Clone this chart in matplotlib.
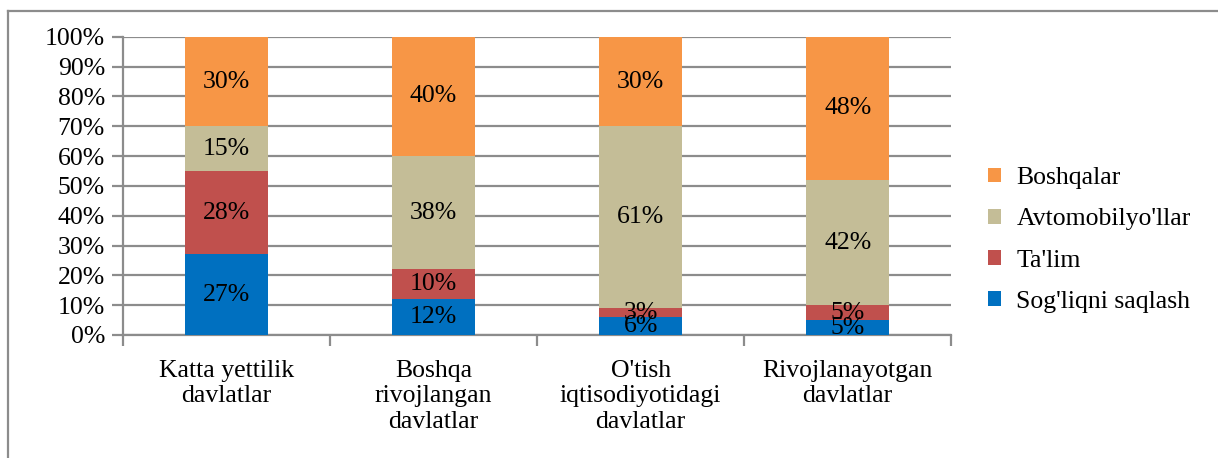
import matplotlib.pyplot as plt
from matplotlib.lines import Line2D
import numpy as np

plt.rcParams['font.family'] = ['Liberation Serif', 'DejaVu Serif']

categories = ["Katta yettilik\ndavlatlar", "Boshqa\nrivojlangan\ndavlatlar",
              "O'tish\niqtisodiyotidagi\ndavlatlar", "Rivojlanayotgan\ndavlatlar"]
series = ["Sog'liqni saqlash", "Ta'lim", "Avtomobilyo'llar", "Boshqalar"]
sogliq = [27, 12, 6, 5]
talim = [28, 10, 3, 5]
avto = [15, 38, 61, 42]
boshqa = [30, 40, 30, 48]
colors = ['#0070C0', '#C0504D', '#C4BD97', '#F79646']

fig = plt.figure(figsize=(12.18, 4.58), dpi=100)
ax = fig.add_axes([0.101, 0.2686, 0.680, 0.651])

x = np.arange(len(categories))
bottom = np.zeros(len(categories))
handles = []
for name, vals, col in zip(series, [sogliq, talim, avto, boshqa], colors):
    vals = np.array(vals, dtype=float)
    b = ax.bar(x, vals, 0.4, bottom=bottom, color=col, label=name, zorder=3)
    handles.append(b)
    for xi, v, b0 in zip(x, vals, bottom):
        ax.text(xi, b0 + v / 2, f"{int(v)}%", ha='center', va='center',
                fontsize=18.5, color='black', zorder=4)
    bottom += vals

ax.set_xlim(-0.5, 3.5)
ax.set_ylim(0, 100)
ax.set_yticks(np.arange(0, 101, 10))
ax.set_yticklabels([f"{v}%" for v in range(0, 101, 10)], fontsize=18.5)
ax.yaxis.grid(True, color='#8c8c8c', linewidth=1.6, zorder=0)
ax.set_xticks(x)
ax.set_xticklabels(categories, fontsize=18.5, linespacing=1.2)
ax.set_xticks(np.arange(-0.5, 4, 1), minor=True)
ax.tick_params(axis='x', which='major', length=0, pad=18)
ax.tick_params(axis='x', which='minor', length=8, width=1.6, color='#8c8c8c')
ax.tick_params(axis='y', length=8, width=1.6, color='#8c8c8c', pad=5)
for s in ['top', 'right']:
    ax.spines[s].set_visible(False)
for s in ['left', 'bottom']:
    ax.spines[s].set_color('#8c8c8c')
    ax.spines[s].set_linewidth(1.6)

leg = fig.legend(handles[::-1], series[::-1], loc='center left',
                 bbox_to_anchor=(988 / 1218, 1 - 240 / 458), frameon=False,
                 fontsize=18.5, handlelength=0.5, handleheight=0.5,
                 handletextpad=0.6, labelspacing=0.75, borderaxespad=0,
                 borderpad=0)

# outer chart frame
fig.add_artist(Line2D([8 / 1218, 1], [1 - 11 / 458, 1 - 11 / 458],
                      color='#8c8c8c', linewidth=1.6, transform=fig.transFigure))
fig.add_artist(Line2D([8 / 1218, 8 / 1218], [0, 1 - 11 / 458],
                      color='#8c8c8c', linewidth=1.6, transform=fig.transFigure))

fig.savefig('out.png', dpi=100)
